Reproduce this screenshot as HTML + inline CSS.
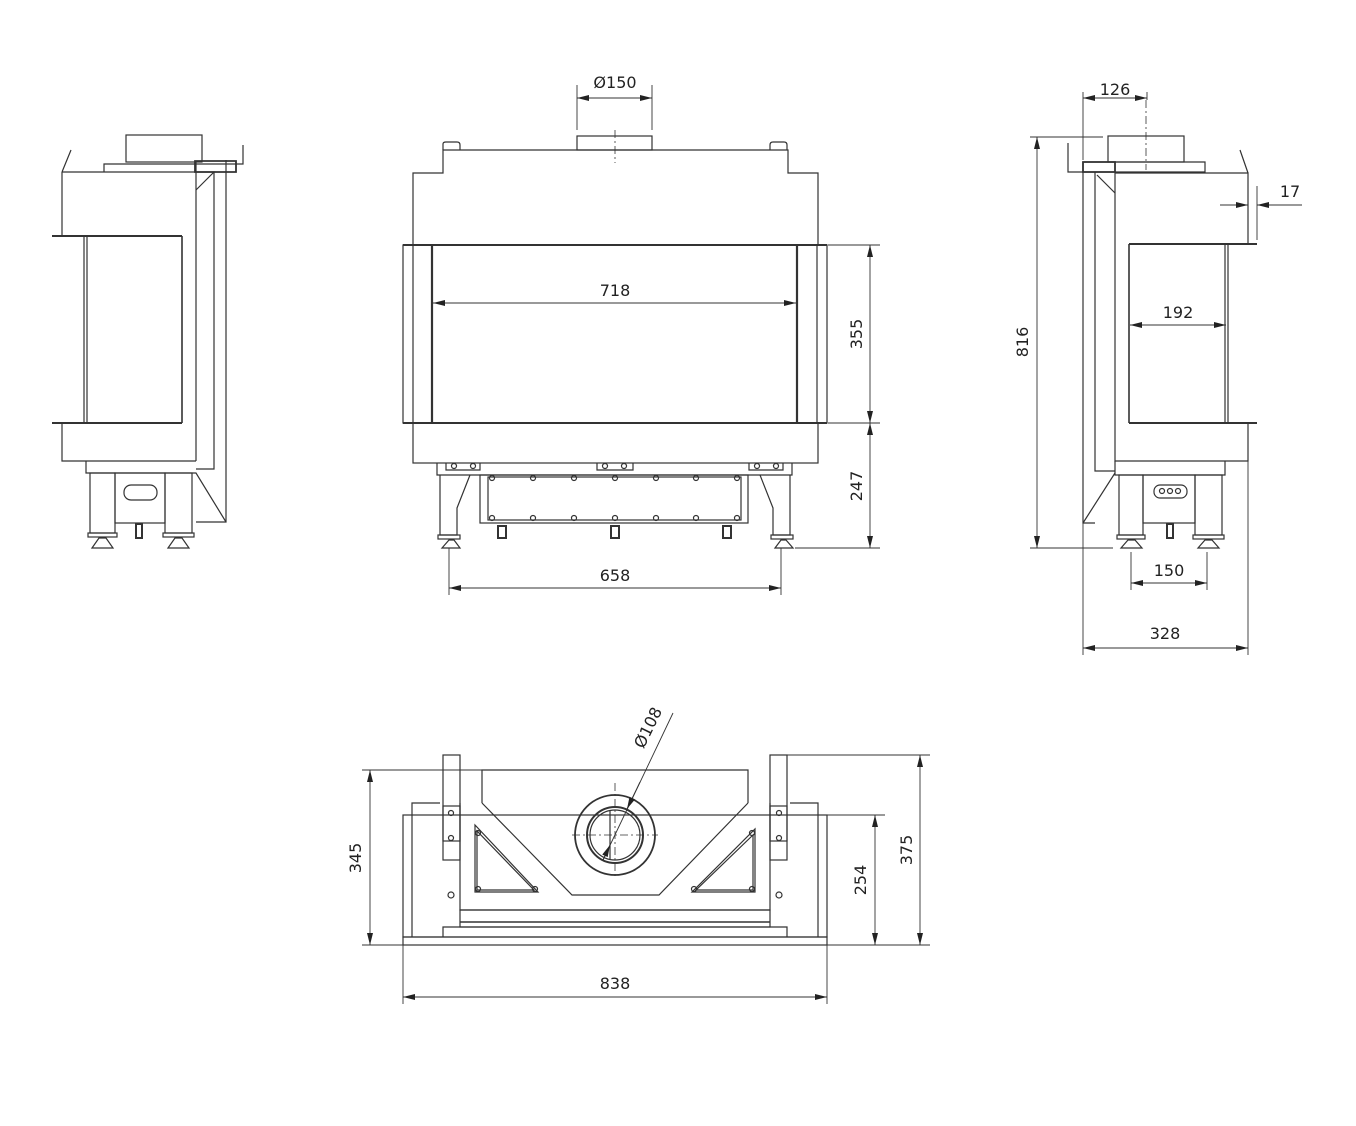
<!DOCTYPE html>
<html><head><meta charset="utf-8"><style>
html,body{margin:0;padding:0;background:#fff}
svg{display:block}
text{font-family:"DejaVu Sans","Liberation Sans",sans-serif;font-size:16px;fill:#222}
</style></head><body>
<svg width="1356" height="1126" viewBox="0 0 1356 1126" xmlns="http://www.w3.org/2000/svg">
<defs>
<marker id="a" viewBox="0 0 12 6" refX="12" refY="3" markerWidth="12" markerHeight="6" orient="auto-start-reverse" markerUnits="userSpaceOnUse"><path d="M0,0 L12,3 L0,6 z" fill="#222"/></marker>
</defs>
<g fill="none" stroke="#333" stroke-width="1.2">
<!-- ===== FRONT VIEW ===== -->
<path d="M413,245 V173 H443 V150 H788 V173 H818 V245"/>
<path d="M443,150 V144 Q443,142 446,142 H457 Q460,142 460,145 V150 M770,150 V145 Q770,142 773,142 H784 Q787,142 787,145 V150"/>
<rect x="577" y="136" width="75" height="14"/>
<line x1="615" y1="130" x2="615" y2="163" stroke-dasharray="8,3,2,3" stroke-width="0.8"/>
<rect x="403" y="245" width="424" height="178"/>
<line x1="403" y1="245" x2="827" y2="245" stroke-width="2"/>
<line x1="403" y1="423" x2="827" y2="423" stroke-width="2"/>
<line x1="413" y1="245" x2="413" y2="423"/>
<line x1="432" y1="245" x2="432" y2="423" stroke-width="2.2"/>
<line x1="797" y1="245" x2="797" y2="423" stroke-width="2.2"/>
<line x1="817" y1="245" x2="817" y2="423"/>
<rect x="413" y="423" width="405" height="40"/>
<path d="M437,463 V475 H792 V463"/>
<path d="M446,463 V470 H480 V463 M597,463 V470 H633 V463 M749,463 V470 H783 V463"/>
<circle cx="454" cy="466" r="2.5"/><circle cx="473" cy="466" r="2.5"/>
<circle cx="605" cy="466" r="2.5"/><circle cx="624" cy="466" r="2.5"/>
<circle cx="757" cy="466" r="2.5"/><circle cx="776" cy="466" r="2.5"/>
<path d="M440,475 V535 H457 V508 L470,475"/>
<path d="M790,475 V535 H773 V508 L760,475"/>
<rect x="438" y="535" width="22" height="4"/><path d="M442,548 L449,540 L454,540 L460,548 Z"/>
<rect x="771" y="535" width="22" height="4"/><path d="M775,548 L781,540 L786,540 L793,548 Z"/>
<rect x="480" y="475" width="268" height="48"/>
<rect x="488" y="477" width="253" height="43"/>
<g>
<circle cx="492" cy="478" r="2.5"/><circle cx="533" cy="478" r="2.5"/><circle cx="574" cy="478" r="2.5"/><circle cx="615" cy="478" r="2.5"/><circle cx="656" cy="478" r="2.5"/><circle cx="696" cy="478" r="2.5"/><circle cx="737" cy="478" r="2.5"/>
<circle cx="492" cy="518" r="2.5"/><circle cx="533" cy="518" r="2.5"/><circle cx="574" cy="518" r="2.5"/><circle cx="615" cy="518" r="2.5"/><circle cx="656" cy="518" r="2.5"/><circle cx="696" cy="518" r="2.5"/><circle cx="737" cy="518" r="2.5"/>
</g>
<rect x="498" y="526" width="8" height="12" stroke-width="2"/><rect x="611" y="526" width="8" height="12" stroke-width="2"/><rect x="723" y="526" width="8" height="12" stroke-width="2"/>

<!-- ===== LEFT VIEW ===== -->
<rect x="126" y="135" width="76" height="27"/>
<path d="M104,172 V164 H243 V145"/>
<path d="M195,161 H236 V172 H195 Z" stroke-width="1.8"/>
<path d="M62,172 V236 M62,423 V461 H196 M62,172 H196 M62,172 L71,150"/>
<path d="M196,161 V461"/>
<path d="M196,172 H214 L196,190"/>
<path d="M214,172 V469 H196"/>
<path d="M226,160 V522 H196"/>
<line x1="52" y1="236" x2="182" y2="236" stroke-width="2"/>
<line x1="52" y1="423" x2="182" y2="423" stroke-width="2"/>
<line x1="182" y1="236" x2="182" y2="423" stroke-width="1.6"/>
<line x1="84" y1="236" x2="84" y2="423"/><line x1="87" y1="236" x2="87" y2="423"/>
<path d="M86,461 V473 H196 L226,522"/>
<rect x="90" y="473" width="25" height="60"/><rect x="165" y="473" width="27" height="60"/>
<rect x="115" y="473" width="50" height="50"/>
<rect x="124" y="485" width="33" height="15" rx="7"/>
<rect x="88" y="533" width="29" height="4"/><rect x="163" y="533" width="31" height="4"/>
<path d="M92,548 L99,538 L106,538 L113,548 Z"/><path d="M168,548 L175,538 L182,538 L189,548 Z"/>
<rect x="136" y="524" width="6" height="14" stroke-width="2"/>

<!-- ===== RIGHT VIEW ===== -->
<rect x="1108" y="136" width="76" height="26"/>
<line x1="1146" y1="100" x2="1146" y2="170" stroke-dasharray="8,3,2,3" stroke-width="0.8"/>
<path d="M1068,143 V172 H1115 M1083,162 H1205 V172 H1115"/>
<path d="M1083,162 H1115 V172 H1083 Z" stroke-width="1.8"/>
<path d="M1083,162 V523 H1095 M1095,172 V471 H1115 M1083,523 L1115,473"/>
<path d="M1097,175 L1115,193"/>
<path d="M1115,172 V461 H1248 V423 M1248,244 V173 H1115 M1248,173 L1240,150"/>
<line x1="1129" y1="244" x2="1257" y2="244" stroke-width="2"/>
<line x1="1129" y1="423" x2="1257" y2="423" stroke-width="2"/>
<line x1="1129" y1="244" x2="1129" y2="423" stroke-width="1.6"/>
<line x1="1225" y1="244" x2="1225" y2="423"/><line x1="1228" y1="244" x2="1228" y2="423"/>
<path d="M1115,461 V475 H1225 V461"/>
<rect x="1119" y="475" width="24" height="60"/><rect x="1195" y="475" width="27" height="60"/>
<rect x="1143" y="475" width="52" height="48"/>
<rect x="1154" y="485" width="33" height="13" rx="6"/>
<circle cx="1162" cy="491" r="2.5"/><circle cx="1170" cy="491" r="2.5"/><circle cx="1178" cy="491" r="2.5"/>
<rect x="1117" y="535" width="28" height="4"/><rect x="1193" y="535" width="31" height="4"/>
<path d="M1121,548 L1128,540 L1135,540 L1142,548 Z"/><path d="M1198,548 L1205,540 L1212,540 L1219,548 Z"/>
<rect x="1167" y="524" width="6" height="14" stroke-width="2"/>

<!-- ===== BOTTOM VIEW ===== -->
<rect x="403" y="815" width="424" height="122"/>
<rect x="403" y="937" width="424" height="8"/>
<path d="M412,937 V803 H440 M790,803 H818 V937"/>
<path d="M443,937 V927 H787 V937"/>
<rect x="460" y="910" width="310" height="17"/>
<line x1="460" y1="922" x2="770" y2="922" stroke-width="1.6"/>
<path d="M460,803 V910 H770 V803"/>
<path d="M482,803 V770 H748 V803"/>
<path d="M482,803 L572,895 H659 L748,803"/>
<rect x="443" y="755" width="17" height="105"/><rect x="770" y="755" width="17" height="105"/>
<rect x="443" y="806" width="17" height="35"/><rect x="770" y="806" width="17" height="35"/>
<circle cx="451" cy="813" r="2.5"/><circle cx="451" cy="838" r="2.5"/>
<circle cx="779" cy="813" r="2.5"/><circle cx="779" cy="838" r="2.5"/>
<circle cx="451" cy="895" r="3"/><circle cx="779" cy="895" r="3"/>
<path d="M475,825 V892 H538 Z"/><path d="M477,831 V890 H534 Z"/>
<path d="M755,829 V892 H692 Z"/><path d="M753,835 V890 H696 Z"/>
<circle cx="478" cy="833" r="2.5"/><circle cx="478" cy="889" r="2.5"/><circle cx="535" cy="889" r="2.5"/>
<circle cx="752" cy="833" r="2.5"/><circle cx="752" cy="889" r="2.5"/><circle cx="694" cy="889" r="2.5"/>
<circle cx="615" cy="835" r="40" stroke-width="1.8"/>
<circle cx="615" cy="835" r="28" stroke-width="2"/>
<circle cx="615" cy="835" r="25"/>
<line x1="572" y1="835" x2="658" y2="835" stroke-dasharray="8,3,2,3" stroke-width="0.8"/>
<line x1="615" y1="783" x2="615" y2="877" stroke-dasharray="8,3,2,3" stroke-width="0.8"/>
<line x1="610" y1="810" x2="610" y2="860"/>
</g>

<!-- ===== DIMENSIONS ===== -->
<g stroke="#333" stroke-width="0.9" fill="none">
<line x1="577" y1="85" x2="577" y2="130"/><line x1="652" y1="85" x2="652" y2="130"/>
<line x1="577" y1="98" x2="652" y2="98" marker-start="url(#a)" marker-end="url(#a)"/>
<line x1="433" y1="303" x2="796" y2="303" marker-start="url(#a)" marker-end="url(#a)"/>
<line x1="828" y1="245" x2="880" y2="245"/><line x1="828" y1="423" x2="880" y2="423"/><line x1="795" y1="548" x2="880" y2="548"/>
<line x1="870" y1="245" x2="870" y2="423" marker-start="url(#a)" marker-end="url(#a)"/>
<line x1="870" y1="423" x2="870" y2="548" marker-start="url(#a)" marker-end="url(#a)"/>
<line x1="449" y1="548" x2="449" y2="595"/><line x1="781" y1="548" x2="781" y2="595"/>
<line x1="449" y1="588" x2="781" y2="588" marker-start="url(#a)" marker-end="url(#a)"/>
<!-- 126 -->
<line x1="1083" y1="92" x2="1083" y2="160"/><line x1="1147" y1="92" x2="1147" y2="100"/>
<line x1="1083" y1="98" x2="1147" y2="98" marker-start="url(#a)" marker-end="url(#a)"/>
<!-- 816 -->
<line x1="1030" y1="137" x2="1103" y2="137"/><line x1="1030" y1="548" x2="1113" y2="548"/>
<line x1="1037" y1="137" x2="1037" y2="548" marker-start="url(#a)" marker-end="url(#a)"/>
<!-- 17 -->
<line x1="1257" y1="186" x2="1257" y2="240"/>
<line x1="1220" y1="205" x2="1248" y2="205" marker-end="url(#a)"/>
<line x1="1302" y1="205" x2="1257" y2="205" marker-end="url(#a)"/>
<!-- 192 -->
<line x1="1130" y1="325" x2="1226" y2="325" marker-start="url(#a)" marker-end="url(#a)"/>
<!-- 150 -->
<line x1="1131" y1="552" x2="1131" y2="590"/><line x1="1207" y1="552" x2="1207" y2="590"/>
<line x1="1131" y1="583" x2="1207" y2="583" marker-start="url(#a)" marker-end="url(#a)"/>
<!-- 328 -->
<line x1="1083" y1="523" x2="1083" y2="655"/><line x1="1248" y1="461" x2="1248" y2="655"/>
<line x1="1083" y1="648" x2="1248" y2="648" marker-start="url(#a)" marker-end="url(#a)"/>
<!-- 345 -->
<line x1="362" y1="770" x2="482" y2="770"/><line x1="362" y1="945" x2="403" y2="945"/>
<line x1="370" y1="770" x2="370" y2="945" marker-start="url(#a)" marker-end="url(#a)"/>
<!-- 375 -->
<line x1="787" y1="755" x2="930" y2="755"/><line x1="827" y1="945" x2="930" y2="945"/>
<line x1="920" y1="755" x2="920" y2="945" marker-start="url(#a)" marker-end="url(#a)"/>
<!-- 254 -->
<line x1="827" y1="815" x2="885" y2="815"/>
<line x1="875" y1="815" x2="875" y2="945" marker-start="url(#a)" marker-end="url(#a)"/>
<!-- 838 -->
<line x1="403" y1="945" x2="403" y2="1004"/><line x1="827" y1="945" x2="827" y2="1004"/>
<line x1="403" y1="997" x2="827" y2="997" marker-start="url(#a)" marker-end="url(#a)"/>
<!-- O108 -->
<line x1="673" y1="713" x2="603" y2="860"/>
<line x1="640" y1="782" x2="627" y2="809" marker-end="url(#a)"/>
<line x1="610" y1="845" x2="603" y2="860" marker-start="url(#a)"/>
</g>

<g text-anchor="middle">
<text x="615" y="88">Ø150</text>
<text x="615" y="296">718</text>
<text x="615" y="581">658</text>
<text x="1115" y="95">126</text>
<text x="1178" y="318">192</text>
<text x="1169" y="576">150</text>
<text x="1165" y="639">328</text>
<text x="1290" y="197">17</text>
<text x="615" y="989">838</text>
<text transform="translate(862,334) rotate(-90)">355</text>
<text transform="translate(862,486) rotate(-90)">247</text>
<text transform="translate(1028,342) rotate(-90)">816</text>
<text transform="translate(361,858) rotate(-90)">345</text>
<text transform="translate(912,850) rotate(-90)">375</text>
<text transform="translate(866,880) rotate(-90)">254</text>
<text transform="translate(653,730) rotate(-64)">Ø108</text>
</g>
</svg>
</body></html>
